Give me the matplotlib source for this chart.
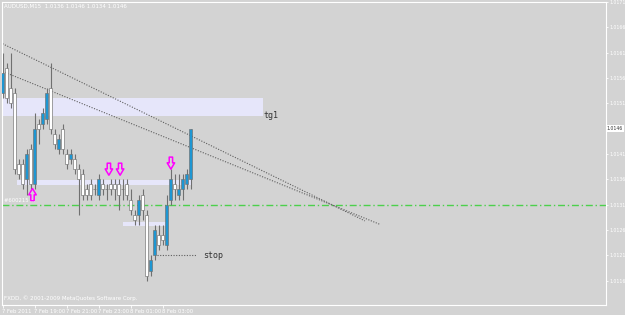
import matplotlib
matplotlib.use("Agg")
import matplotlib.pyplot as plt
import numpy as np
from matplotlib.path import Path
from matplotlib.transforms import blended_transform_factory

# AUDUSD M15, one bar per 15 minutes starting 7 Feb 17:00
opens = [1.0153, 1.0158, 1.0154, 1.0153, 1.0139, 1.0139, 1.0136, 1.0142,
         1.0135, 1.0147, 1.0147, 1.0148, 1.0154, 1.0145, 1.0142, 1.0146,
         1.0141, 1.0140, 1.0140, 1.0138, 1.0137, 1.0134, 1.0135, 1.0134,
         1.0133, 1.0135, 1.0134, 1.0135, 1.0135, 1.0135, 1.0134, 1.0135,
         1.0132, 1.0129, 1.0129, 1.0133, 1.0129, 1.0118, 1.0121, 1.0125,
         1.0125, 1.0123, 1.0132, 1.0135, 1.0133, 1.0134, 1.0135, 1.0136]
highs = [1.0161, 1.0159, 1.0161, 1.0154, 1.0140, 1.0140, 1.0142, 1.0143,
         1.0149, 1.0148, 1.0150, 1.0154, 1.0159, 1.0146, 1.0145, 1.0147,
         1.0142, 1.0142, 1.0141, 1.0139, 1.0138, 1.0135, 1.0136, 1.0135,
         1.0137, 1.0136, 1.0135, 1.0136, 1.0136, 1.0136, 1.0136, 1.0136,
         1.0134, 1.0130, 1.0133, 1.0134, 1.0130, 1.0121, 1.0127, 1.0127,
         1.0127, 1.0133, 1.0138, 1.0137, 1.0137, 1.0137, 1.0138, 1.0146]
lows = [1.0152, 1.0151, 1.0150, 1.0137, 1.0136, 1.0134, 1.0133, 1.0134,
        1.0134, 1.0143, 1.0146, 1.0147, 1.0145, 1.0142, 1.0141, 1.0141,
        1.0138, 1.0139, 1.0137, 1.0129, 1.0132, 1.0132, 1.0132, 1.0133,
        1.0132, 1.0133, 1.0132, 1.0133, 1.0132, 1.0130, 1.0132, 1.0132,
        1.0129, 1.0127, 1.0127, 1.0128, 1.0116, 1.0117, 1.0120, 1.0122,
        1.0123, 1.0122, 1.0131, 1.0132, 1.0132, 1.0132, 1.0134, 1.0134]
closes = [1.0157, 1.0152, 1.0151, 1.0138, 1.0137, 1.0135, 1.0141, 1.0135,
          1.0146, 1.0146, 1.0149, 1.0153, 1.0146, 1.0143, 1.0144, 1.0142,
          1.0139, 1.0141, 1.0138, 1.0136, 1.0133, 1.0133, 1.0133, 1.0134,
          1.0136, 1.0134, 1.0134, 1.0134, 1.0134, 1.0133, 1.0134, 1.0133,
          1.0130, 1.0128, 1.0132, 1.0130, 1.0117, 1.0120, 1.0126, 1.0123,
          1.0124, 1.0131, 1.0136, 1.0134, 1.0134, 1.0136, 1.0137, 1.0146]

time_ticks = [0, 8, 16, 24, 32, 40]
time_labels = ["7 Feb 2011", "7 Feb 19:00", "7 Feb 21:00",
               "7 Feb 23:00", "8 Feb 01:00", "8 Feb 03:00"]
price_ticks = [1.0116, 1.0121, 1.0126, 1.0131, 1.0136, 1.0141,
               1.0146, 1.0151, 1.0156, 1.0161, 1.0166, 1.0171]

# chart objects: zones (x0, x1, low, high), trend lines, signals
zones = [(-1.0, 65.0, 1.01485, 1.0152),
         (3.6, 47.4, 1.01349, 1.01359),
         (30.1, 41.1, 1.01267, 1.01276)]
trend_a = ([-0.6, 90.6], [1.0163, 1.01278])
trend_b = ([-0.6, 94.4], [1.01575, 1.01271])
hline_level = 1.0131
stop_x = [38.5, 48.7]
stop_level = 1.0121
up_arrows_x = [7.5]
up_arrows_y = [1.0133]
down_arrows_x = [26.6, 29.4, 42.1]
down_arrows_y = [1.0138, 1.0138, 1.01392]

BG = "#d3d3d3"
FG = "white"
EDGE = "#707070"
BLUE = "#1e96d2"
SMALL = ["Liberation Sans Narrow", "DejaVu Sans"]

fig = plt.figure(figsize=(6.25, 3.15), dpi=100, facecolor=BG)
ax = fig.add_axes([2 / 625, 10 / 315, 604 / 625, 303 / 315], facecolor=BG)

idx = np.arange(len(opens))
o = np.array(opens)
c = np.array(closes)

for x0, x1, lo, hi in zones:
    ax.fill_between([x0, x1], lo, hi, color="#e6e6fa", lw=0, zorder=1)

ax.axhline(hline_level, color="#4cd04c", lw=1.0, ls=(0, (5, 2, 1, 2)), zorder=1.5)
ax.plot(*trend_a, color="#5e5e5e", lw=0.8, ls=(0, (1, 1.4)), zorder=1.6)
ax.plot(*trend_b, color="#5e5e5e", lw=0.8, ls=(0, (1, 1.4)), zorder=1.6)
ax.plot(stop_x, [stop_level] * 2, color="#5e5e5e", lw=0.8, ls=(0, (1, 1.4)))

ax.vlines(idx, lows, highs, color=EDGE, lw=0.8, zorder=2)
fills = [BLUE if cl > op else "white" for op, cl in zip(o, c)]
ax.bar(idx, c - o, bottom=o, width=0.72, color=fills, edgecolor=EDGE,
       linewidth=0.45, zorder=3)

# hollow arrow markers
down = Path([(-0.28, 1), (0.28, 1), (0.28, 0.05), (0.62, 0.05), (0, -1),
             (-0.62, 0.05), (-0.28, 0.05), (-0.28, 1)], closed=True)
up = Path(down.vertices * [1, -1], closed=True)
ax.scatter(down_arrows_x, down_arrows_y, marker=down, s=75, facecolor="none",
           edgecolor="magenta", lw=1.1, zorder=4)
ax.scatter(up_arrows_x, up_arrows_y, marker=up, s=75, facecolor="none",
           edgecolor="magenta", lw=1.1, zorder=4)

ax.text(65.2, 1.01486, "tg1", fontsize=6, family="DejaVu Sans Mono",
        color="#333333", va="center")
ax.text(50.1, stop_level, "stop", fontsize=6, family="DejaVu Sans Mono",
        color="#333333", va="center")

ax.set_xlim(-0.125, 150.875)
ax.set_ylim(1.01112, 1.01706)

ax.yaxis.tick_right()
ax.set_yticks(price_ticks)
# the current-price box covers its own grid label
ax.set_yticklabels(["" if p == closes[-1] else f"{p:.4f}" for p in price_ticks],
                   family=SMALL)
ax.set_xticks(time_ticks)
ax.set_xticklabels(time_labels, ha="left", family=SMALL)
ax.tick_params(colors=FG, labelsize=3.8, length=2, width=0.6, pad=1.2)
ax.tick_params(axis="y", labelsize=3.3, length=1.5, pad=0.8)
for s in ax.spines.values():
    s.set_color(FG)
    s.set_linewidth(0.8)

tr = blended_transform_factory(ax.transAxes, ax.transData)
ax.text(1.001, closes[-1], f"{closes[-1]:.4f}", transform=tr, fontsize=3.3,
        family=SMALL, color="#333333", va="center", ha="left", clip_on=False,
        zorder=6, bbox=dict(fc="white", ec="none", pad=0.7))

ax.text(0.003, 0.993, "AUDUSD,M15  1.0136 1.0146 1.0134 1.0146",
        transform=ax.transAxes, fontsize=4, family=SMALL, color=FG, va="top")
ax.text(0.003, 0.012, "FXDD, \u00a9 2001-2009 MetaQuotes Software Corp.",
        transform=ax.transAxes, fontsize=4, family=SMALL, color=FG, va="bottom")
ax.text(0.4, hline_level + 0.00004, "#600215 hl", fontsize=3.8, family=SMALL,
        color=FG, va="bottom")

fig.savefig("out.png", dpi=100, facecolor=BG)
